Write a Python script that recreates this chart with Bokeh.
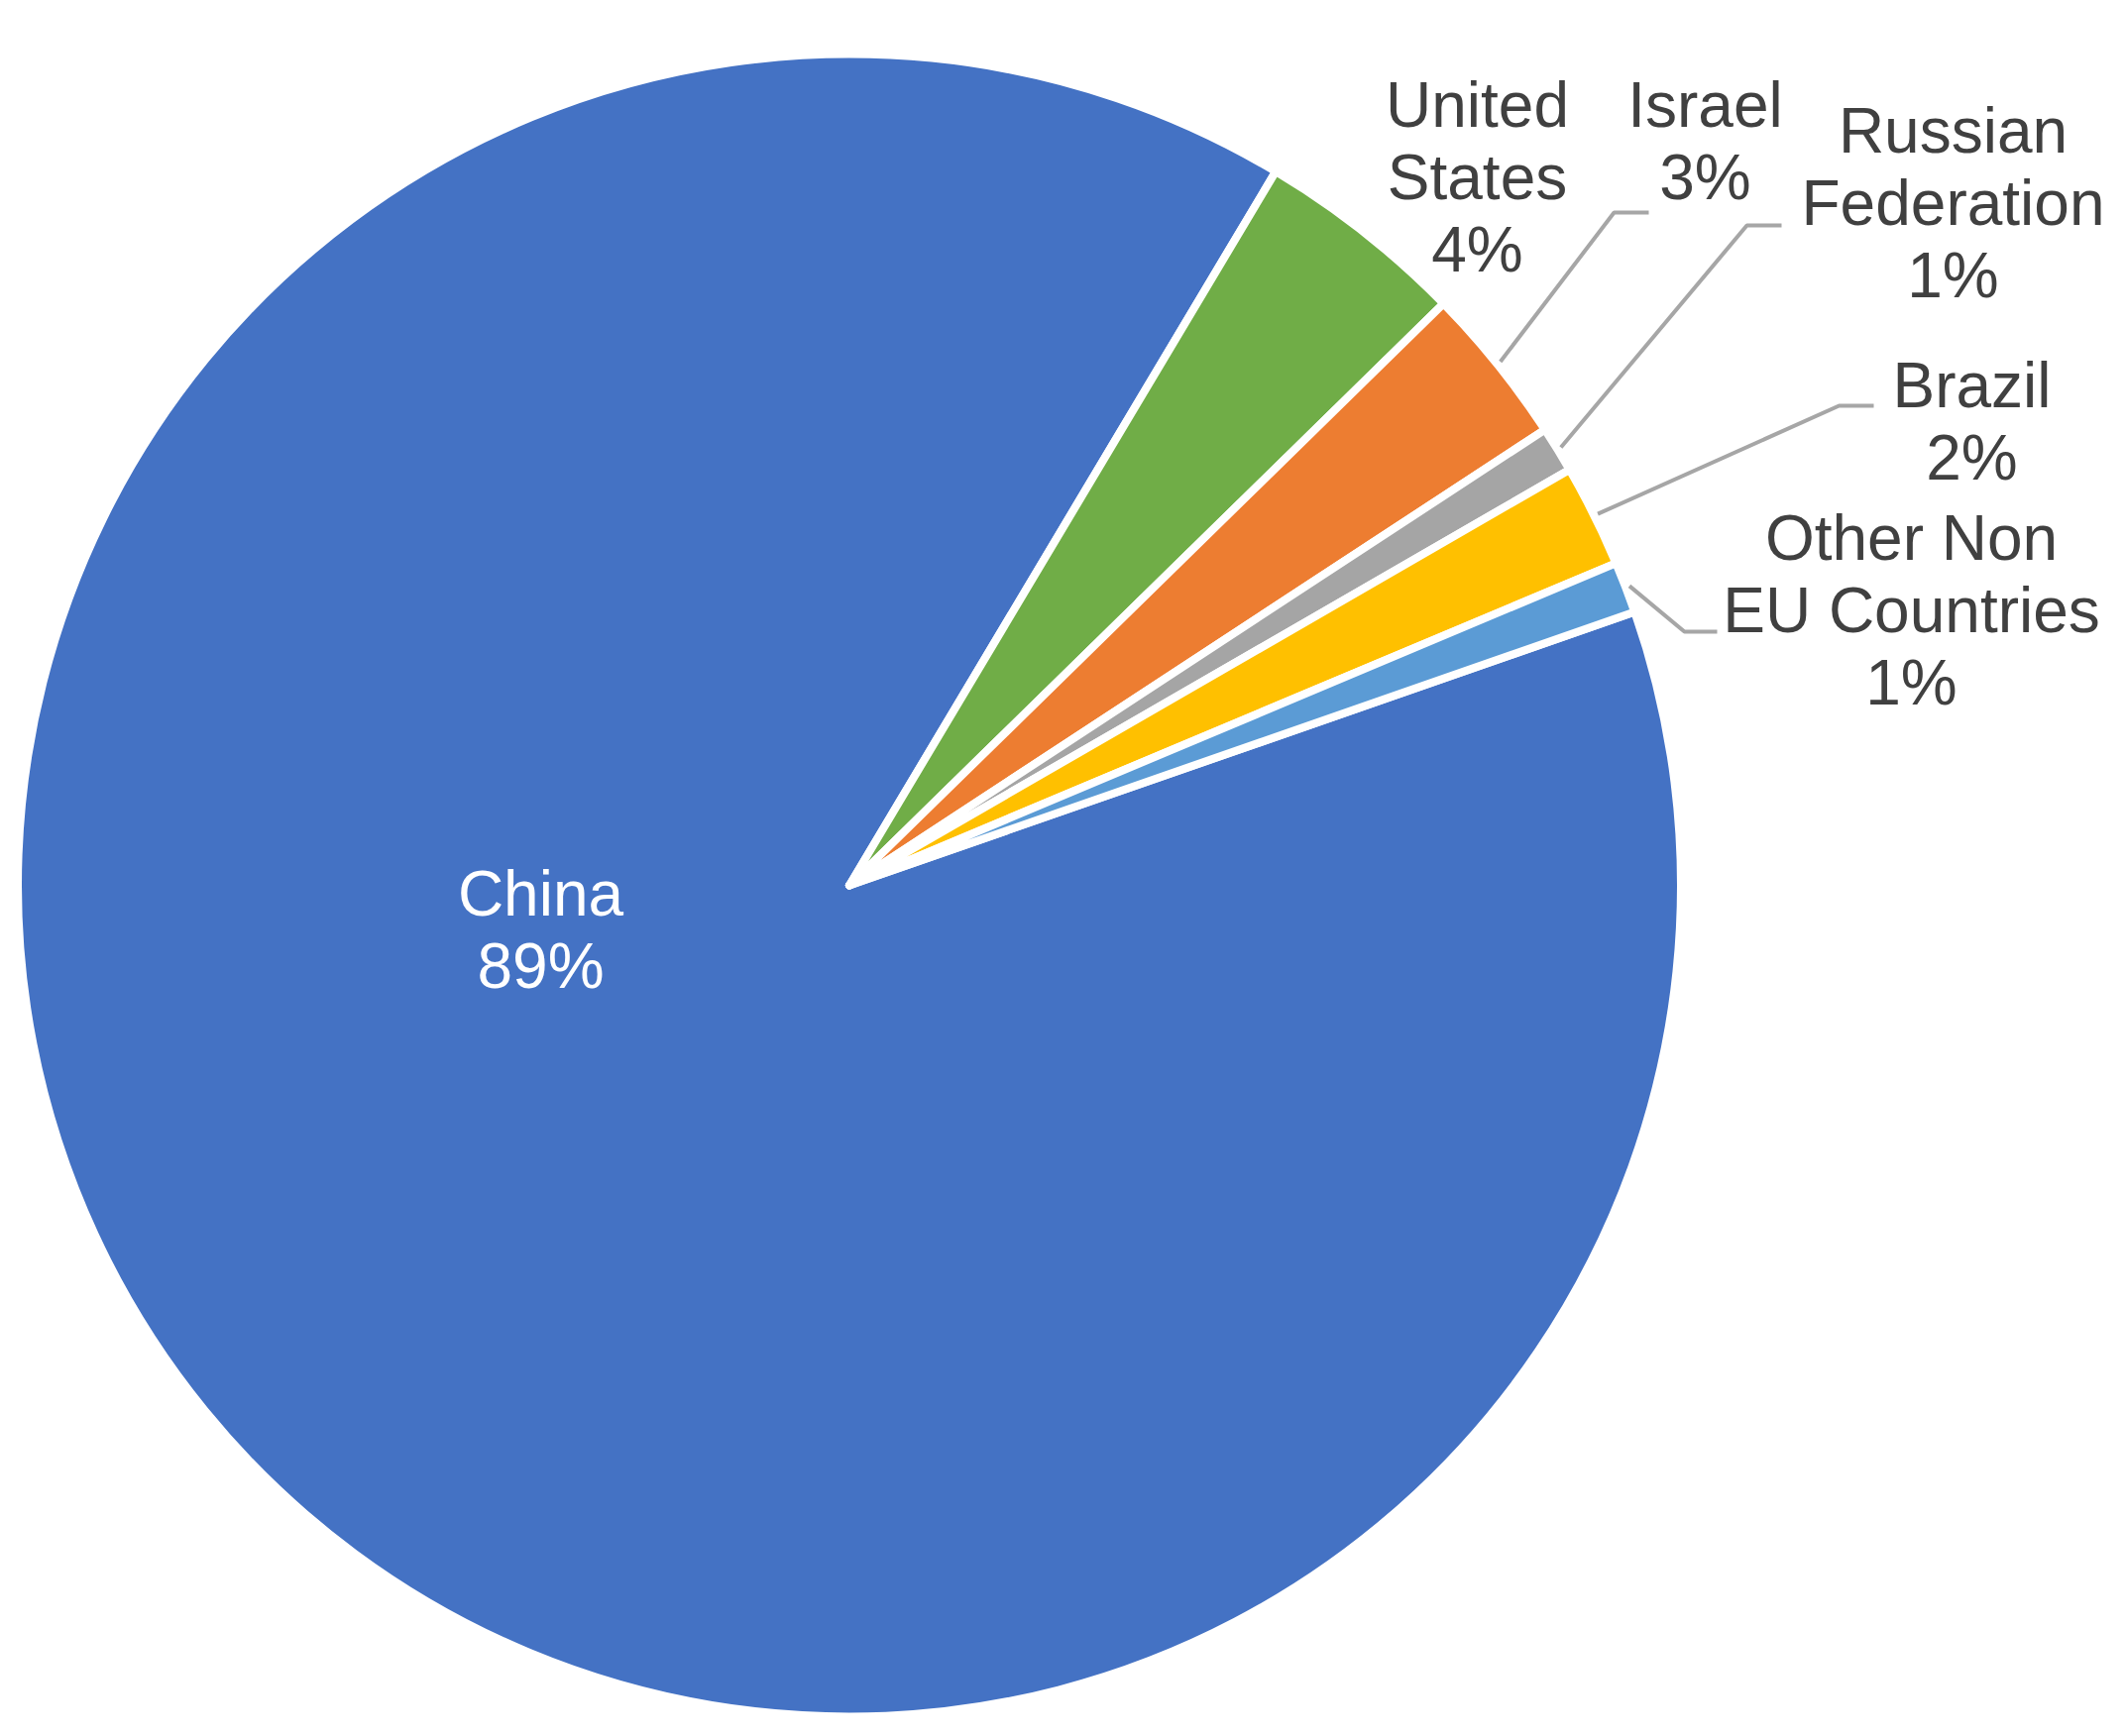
import numpy as np
from bokeh.plotting import figure
from bokeh.models import Range1d, ColumnDataSource
from bokeh.embed import file_html
from bokeh.resources import INLINE
from bokeh.core.properties import value

# ---------------- data ----------------
countries = ["China", "United States", "Israel", "Russian Federation", "Brazil", "Other Non EU Countries"]
label_lines = [["China"], ["United", "States"], ["Israel"], ["Russian", "Federation"],
               ["Brazil"], ["Other Non", "EU Countries"]]
shares = [88.9, 4.1, 3.1, 0.9, 2.0, 1.0]
colors = ["#4472C4", "#70AD47", "#ED7D31", "#A5A5A5", "#FFC000", "#5B9BD5"]

# ---------------- layout (reference pixel coordinates, y down) ----------------
W, H = 2145, 1752
CX, CY = 856.5, 893.0
R_VIS = 835.0
BORDER = 8
FIRST_ANGLE = 70.8          # degrees clockwise from 12 o'clock
label_pos = [(545, 923), (1490, 127), (1720, 127), (1970, 153), (1989, 410), (1928, 564)]
label_colors = ["white", "#404040", "#404040", "#404040", "#404040", "#404040"]
LINE_STEP = 73.0
TEXT_DY = -22
# leader lines: index -> (elbow x, elbow y, end x)
leaders = {2: (1628, 214, 1663), 3: (1762, 227, 1797), 4: (1855, 409, 1890), 5: (1699, 637, 1732)}


def Y(y_ref):
    return H - y_ref


total = sum(shares)
cum = np.concatenate([[0], np.cumsum(shares)])
theta_a = FIRST_ANGLE + 360.0 * cum[:-1] / total   # clockwise from top
theta_b = FIRST_ANGLE + 360.0 * cum[1:] / total
start = np.radians(90.0 - theta_b)
end = np.radians(90.0 - theta_a)

p = figure(width=W - 16, height=H - 16,
           x_range=Range1d(0, W - 16), y_range=Range1d(16, H),
           output_backend="svg", toolbar_location=None,
           x_axis_type=None, y_axis_type=None, min_border=0,
           outline_line_color=None, background_fill_color="white",
           border_fill_color="white")
p.grid.visible = False

src = ColumnDataSource(dict(start=start, end=end, color=colors, name=countries))
p.wedge(x=CX, y=Y(CY), radius=R_VIS + BORDER / 2, start_angle="start", end_angle="end",
        direction="anticlock", fill_color="color", line_color="white",
        line_width=BORDER, line_join="round", source=src)

# leader lines
for i, (ex, ey, endx) in leaders.items():
    mid = np.radians((theta_a[i] + theta_b[i]) / 2.0)
    r0 = R_VIS + 8
    sx = CX + r0 * np.sin(mid)
    sy = CY - r0 * np.cos(mid)
    p.line([sx, ex, endx], [Y(sy), Y(ey), Y(ey)], line_color="#A6A6A6", line_width=4)

# labels
tx, ty, tt, tc = [], [], [], []
for i, lines in enumerate(label_lines):
    pct = f"{round(shares[i] / total * 100):.0f}%"
    x0, y0 = label_pos[i]
    for k, t in enumerate(lines + [pct]):
        tx.append(x0)
        ty.append(Y(y0 + TEXT_DY + k * LINE_STEP))
        tt.append(t)
        tc.append(label_colors[i])

p.text(x=tx, y=ty, text=tt, text_color=tc, text_font=value("Liberation Sans"),
       text_font_size="64px", text_align="center", text_baseline="alphabetic")

open("out.html", "w").write(file_html(p, INLINE))
